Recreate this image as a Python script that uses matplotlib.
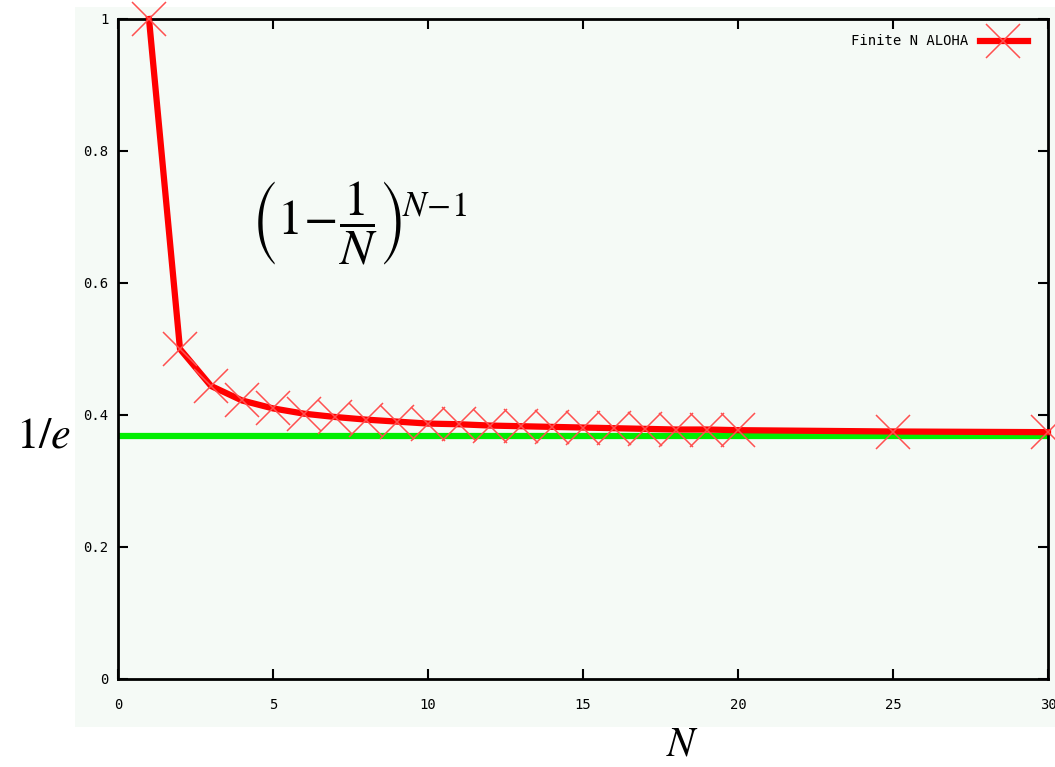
"""Finite-N slotted ALOHA efficiency (1 - 1/N)^(N-1) against its limit 1/e."""
import matplotlib

matplotlib.use("Agg")
import matplotlib.pyplot as plt
from matplotlib.patches import Rectangle

plt.rcParams["mathtext.fontset"] = "stix"

# values
n_values = [1, 2, 3, 4, 5, 6, 7, 8, 9, 10, 11, 12, 13, 14, 15, 16, 17, 18, 19, 20, 25, 30]
efficiency = [1.0, 0.5, 0.444, 0.422, 0.410, 0.402, 0.397, 0.393, 0.390, 0.387,
              0.386, 0.384, 0.383, 0.382, 0.381, 0.380, 0.379, 0.378, 0.378, 0.377,
              0.375, 0.374]
limit_value = 0.3679  # 1/e
x_ticks = [0, 5, 10, 15, 20, 25, 30]
y_ticks = [0, 0.2, 0.4, 0.6, 0.8, 1]
y_tick_labels = ["0", "0.2", "0.4", "0.6", "0.8", "1"]

W, H = 1055, 767
BG = "#f5faf6"

fig = plt.figure(figsize=(W / 100, H / 100), dpi=100)
fig.patch.set_facecolor("white")
fig.patches.append(Rectangle((75 / W, 1 - 727 / H), (W - 75) / W, 720 / H,
                             transform=fig.transFigure, facecolor=BG,
                             edgecolor="none", zorder=-5))

ax = fig.add_axes([118 / W, 1 - 679 / H, 930 / W, 660 / H])
ax.set_zorder(2)
ax.set_facecolor(BG)
ax.set_xlim(0, 30)
ax.set_ylim(0, 1)

ax.axhline(limit_value, color="#00ee00", lw=4.5, zorder=2)
ax.plot(n_values, efficiency, color="#ff0000", lw=4.5, zorder=3, clip_on=False)
ax.plot(n_values, efficiency, ls="none", marker="x", ms=25, mew=1.1,
        color="#ff5050", zorder=4, clip_on=False)

ax.set_xticks(x_ticks)
ax.set_xticklabels([str(t) for t in x_ticks])
ax.set_yticks(y_ticks)
ax.set_yticklabels(y_tick_labels)
ax.tick_params(direction="in", length=7, width=1.5, top=True, right=True,
               labelsize=10)
ax.tick_params(axis="x", pad=14)
ax.tick_params(axis="y", pad=7)
for lab in ax.get_xticklabels() + ax.get_yticklabels():
    lab.set_family("DejaVu Sans Mono")
for sp in ax.spines.values():
    sp.set_linewidth(2)

# legend drawn as text + sample, like gnuplot's key
ax.text(0.914, 0.967, "Finite N ALOHA", transform=ax.transAxes, ha="right",
        va="center", fontsize=10, family="DejaVu Sans Mono")
ax.plot([0.927, 0.978], [0.967, 0.967], transform=ax.transAxes, color="#ff0000",
        lw=4.5, clip_on=False)
ax.plot([0.952], [0.967], transform=ax.transAxes, marker="x", ms=25, mew=1.1,
        color="#ff5050", clip_on=False)

ax.text(4.3, 0.69, r"$\left(1\!-\!\dfrac{1}{N}\right)^{\!N\!-\!1}$", fontsize=36,
        ha="left", va="center")
fig.text(43 / W, 1 - 435 / H, r"$1/e$", fontsize=32, ha="center", va="center")
fig.text(683 / W, 1 - 744 / H, r"$N$", fontsize=30, ha="center", va="center")

fig.savefig("out.png", dpi=100, facecolor="white")
